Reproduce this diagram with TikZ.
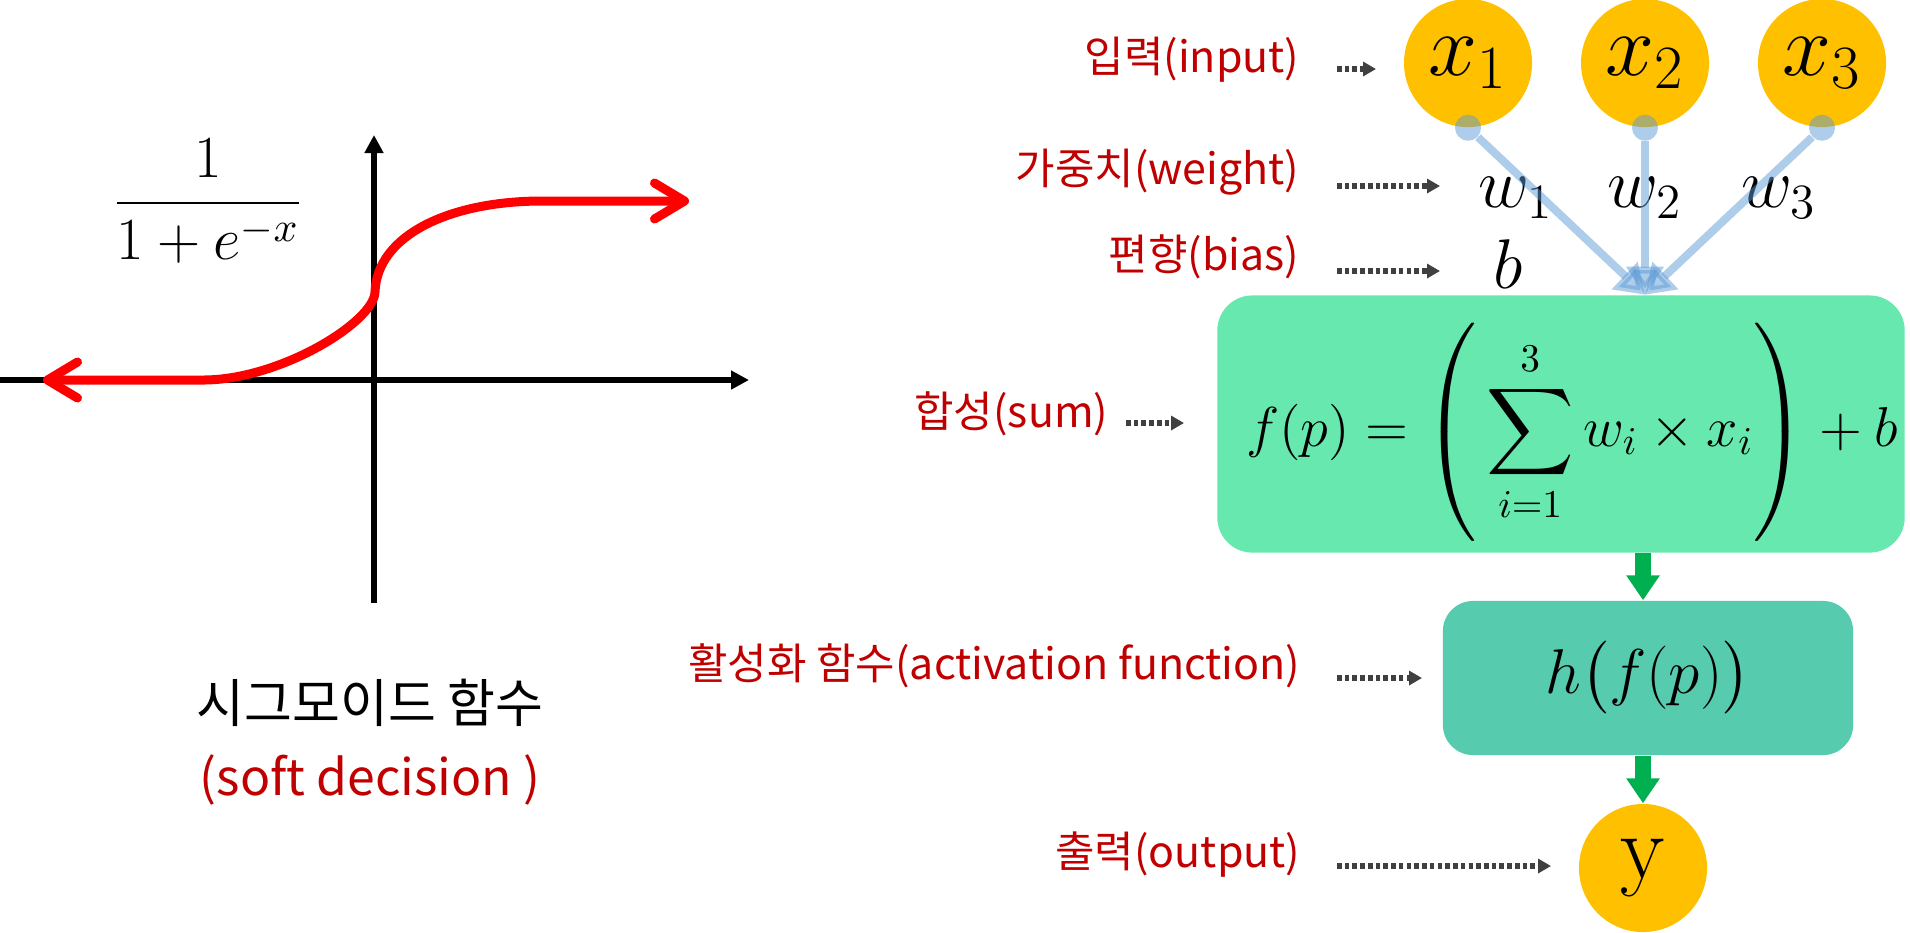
\RequirePackage{fix-cm}
\documentclass[tikz,border=0pt]{standalone}
\usepackage{amsmath}
\usepackage{fontspec}
\newfontfamily\krfont{Noto Sans CJK KR}
\usetikzlibrary{arrows.meta, positioning, calc}

\definecolor{lblred}{HTML}{C00000}
\definecolor{curvered}{HTML}{FF0000}
\definecolor{nodeyellow}{HTML}{FFC000}
\definecolor{sumgreen}{HTML}{66E8AE}
\definecolor{actgreen}{HTML}{57CBAD}
\definecolor{flowgreen}{HTML}{00B050}
\definecolor{linkblue}{HTML}{5B9BD5}
\definecolor{dotgray}{HTML}{404040}

\begin{document}
\begin{tikzpicture}[
    x=0.01cm, y=-0.01cm,
    lbl/.style={font=\krfont\fontsize{12.2}{15}\selectfont, text=lblred, inner sep=0pt, anchor=east},
    dotarr/.style={-{Triangle[length=0.13cm, width=0.14cm]}, draw=dotgray, line width=1.5pt, dash pattern=on 1.3pt off 0.9pt},
    axis/.style={line width=0.06cm, -{Triangle[length=0.18cm, width=0.18cm]}},
    sig/.style={draw=curvered, line width=0.09cm, line cap=round, line join=round,
        {Straight Barb[length=0.3cm, width=0.36cm, round]}-{Straight Barb[length=0.3cm, width=0.36cm, round]}},
    innode/.style={circle, fill=nodeyellow, minimum size=1.28cm, inner sep=0pt, font=\fontsize{25}{30}\selectfont},
    dotc/.style={circle, fill=linkblue, fill opacity=0.5, minimum size=0.26cm, inner sep=0pt},
    wlbl/.style={inner sep=0pt, font=\fontsize{20}{24}\selectfont},
    link/.style={draw=linkblue, opacity=0.5, line width=0.08cm, -{Triangle[length=0.28cm, width=0.36cm]}},
    flow/.style={draw=flowgreen, line width=0.16cm, -{Triangle[length=0.25cm, width=0.32cm]}},
    box/.style={rounded corners=0.35cm, inner sep=0pt},
    eqn/.style={inner sep=0pt, font=\fontsize{16}{20}\selectfont},
]
\useasboundingbox (0,0) rectangle (1910,932);
\clip (0,0) rectangle (1910,932);
% ============================================================
% LEFT: sigmoid curve
% ============================================================
\coordinate (xl) at (0,380);
\coordinate (xr) at (749,380);
\coordinate (yb) at (374,603);
\coordinate (yt) at (374,135);
\draw[axis] (xl) -- (xr);
\draw[axis] (yb) -- (yt);
\draw[sig] (43,380) -- (203,380) .. controls (280,380) and (374,322) .. (375,292)
    .. controls (377,235) and (450,201) .. (542,201) -- (689,201);
\node[font=\fontsize{17}{20}\selectfont, inner sep=0pt] (sigfn) at (208,201) {$\displaystyle\frac{1}{1+e^{-x}}$};
\node[font=\krfont\fontsize{14.8}{18}\selectfont, inner sep=0pt] (signame) at (370,703) {시그모이드 함수};
\node[font=\krfont\fontsize{14.2}{18}\selectfont, text=lblred, inner sep=0pt] (sigsub) at (370,780) {(soft decision )};
% ============================================================
% RIGHT: perceptron
% ============================================================
% --- inputs ---
\node[innode] (x1) at (1468,63) {$x_1$};
\node[innode] (x2) at (1645,63) {$x_2$};
\node[innode] (x3) at (1822,63) {$x_3$};
\node[dotc] (d1) at (x1.south) {};
\node[dotc] (d2) at (x2.south) {};
\node[dotc] (d3) at (x3.south) {};
% --- weights and bias ---
\node[wlbl] (w1) at (1516,198) {$w_1$};
\node[wlbl] (w2) at (1645,198) {$w_2$};
\node[wlbl] (w3) at (1779,198) {$w_3$};
\node[wlbl] (bias) at (1508,264) {$b$};
% --- sum box ---
\node[box, fill=sumgreen, minimum width=6.87cm, minimum height=2.57cm] (sumbox) at (1561,424) {};
\node[eqn] (sumeq) at (1572,432)
    {$\displaystyle f(p)=\left(\rule[-0.86cm]{0pt}{2.08cm}\sum_{i=1}^{3}w_i\times x_i\right)+b$};
\coordinate (conv) at (x2 |- sumbox.north);
\draw[link] (d1) -- (conv);
\draw[link] (d2) -- (conv);
\draw[link] (d3) -- (conv);
% --- activation and output ---
\node[box, rounded corners=0.3cm, fill=actgreen, minimum width=4.1cm, minimum height=1.54cm] (actbox) at (1648,678) {};
\node[eqn, font=\fontsize{18}{21}\selectfont] (acteq) at (actbox.center) {$h\bigl(f(p)\bigr)$};
\node[innode, font=\fontsize{26}{30}\selectfont] (yout) at (1643,868) {$\mathrm{y}$};
\draw[flow] (yout |- sumbox.south) -- (yout |- actbox.north);
\draw[flow] (yout |- actbox.south) -- (yout.north);
% --- labels ---
\node[lbl] (inlbl) at (1300,60) {입력(input)};
\node[lbl] (wtlbl) at (1300,172) {가중치(weight)};
\node[lbl] (bilbl) at (1300,257) {편향(bias)};
\node[lbl] (sumlbl) at (1109,414) {합성(sum)};
\node[lbl] (actlbl) at (1301,666) {활성화 함수(activation function)};
\node[lbl] (outlbl) at (1301,855) {출력(output)};
% dotted pointers
\coordinate (inS) at (1337,69);   \coordinate (inT) at (1376,69);
\coordinate (wtS) at (1337,186);  \coordinate (wtT) at (1440,186);
\coordinate (biS) at (1337,271);  \coordinate (biT) at (1440,271);
\coordinate (sumS) at (1126,423); \coordinate (sumT) at (1184,423);
\coordinate (actS) at (1337,678); \coordinate (actT) at (1422,678);
\coordinate (outS) at (1337,866); \coordinate (outT) at (1551,866);
\foreach \p in {in, wt, bi, sum, act, out}
    \draw[dotarr] (\p S) -- (\p T);
\end{tikzpicture}
\end{document}
